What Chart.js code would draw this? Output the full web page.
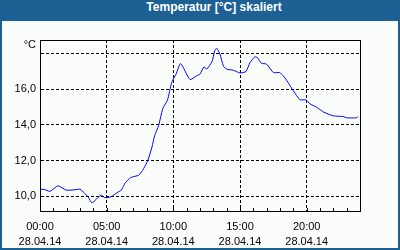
<!DOCTYPE html>
<html>
<head>
<meta charset="utf-8">
<script src="https://cdn.jsdelivr.net/npm/chart.js@4/dist/chart.umd.min.js"></script>
<style>
	html, body { margin: 0; padding: 0; }
	#frame { position: relative; width: 400px; height: 250px; background: #1d6094; overflow: hidden; }
	#head { position: absolute; left: 0; top: 0; width: 400px; height: 21px; line-height: 21px; color: #fff;
		font: bold 12px "Liberation Sans", Arial, sans-serif; text-align: center; padding-left: 28px; box-sizing: border-box; }
	#body { position: absolute; left: 2px; top: 21px; width: 396px; height: 227px; background: #fbfdfb; }
	canvas { display: block; }
</style>
</head>
<body>
<div id="frame">
	<div id="head">Temperatur [°C] skaliert</div>
	<div id="body"><canvas id="chart" width="396" height="227"></canvas></div>
</div>
<script>
// hours since midnight and temperature readings
var hours = [0, 0.3, 0.75, 1.35, 1.95, 2.7, 3.0, 3.6, 3.9, 4.57, 4.87, 5.33, 5.85, 6.1, 6.4, 6.8, 7.4, 7.7, 8.07, 8.4, 8.6, 8.9, 9.1, 9.25, 9.55, 9.88, 10.2, 10.55, 11.25, 11.75, 12.0, 12.3, 12.5, 12.9, 13.1, 13.25, 13.5, 13.75, 14.0, 14.5, 15.0, 15.45, 15.75, 16.1, 16.3, 16.6, 17.0, 17.5, 17.95, 18.25, 18.6, 19.0, 19.5, 19.95, 20.25, 20.75, 21.3, 22.0, 22.75, 23.0, 23.75, 23.85];
var temps = [10.39, 10.39, 10.28, 10.59, 10.35, 10.37, 10.40, 9.98, 9.64, 10.07, 9.92, 9.98, 10.24, 10.35, 10.76, 11.05, 11.18, 11.46, 11.98, 12.76, 13.4, 13.96, 14.6, 14.98, 15.35, 16.37, 16.83, 17.42, 16.53, 16.74, 16.83, 17.24, 17.11, 17.53, 18.13, 18.28, 17.94, 17.29, 17.11, 17.05, 16.9, 16.98, 17.48, 17.79, 17.76, 17.44, 17.39, 16.92, 16.92, 16.74, 16.37, 15.9, 15.4, 15.39, 15.17, 14.98, 14.7, 14.5, 14.46, 14.39, 14.39, 14.46];
var dateLabel = '28.04.14';
var yLabels = [10, 12, 14, 16];
var unit = '°C';

var font = { family: '"Liberation Sans", Arial, sans-serif', size: 11, lineHeight: 1.32 };

var points = [];
for (var i = 0; i < hours.length; i++) {
	points.push({ x: hours[i], y: temps[i] });
}

var extras = {
	id: 'extras',
	afterDraw: function (chart) {
		var ctx = chart.ctx;
		var area = chart.chartArea;
		var xs = chart.scales.x;
		ctx.save();
		ctx.strokeStyle = '#000';
		ctx.lineWidth = 1;
		// frame round the plot
		ctx.strokeRect(Math.round(area.left) + 0.5, Math.round(area.top) + 0.5,
			Math.round(area.right - area.left), Math.round(area.bottom - area.top));
		// hour ticks
		ctx.beginPath();
		for (var h = 1; h < 24; h++) {
			var px = Math.round(xs.getPixelForValue(h)) + 0.5;
			ctx.moveTo(px, area.bottom);
			ctx.lineTo(px, area.bottom - 3);
		}
		ctx.stroke();
		ctx.fillStyle = '#000';
		ctx.font = '11px ' + font.family;
		ctx.textAlign = 'right';
		ctx.textBaseline = 'middle';
		ctx.fillText(unit, area.left - 4, area.top + 5);
		ctx.restore();
	}
};

new Chart(document.getElementById('chart'), {
	type: 'line',
	data: {
		datasets: [{
			data: points,
			borderColor: '#0000ff',
			borderWidth: 1,
			pointRadius: 0,
			tension: 0.2,
			fill: false
		}]
	},
	options: {
		responsive: false,
		animation: false,
		layout: { padding: { top: 19, right: 38, left: 0, bottom: 0 } },
		plugins: { legend: { display: false }, tooltip: { enabled: false } },
		scales: {
			x: {
				type: 'linear',
				min: 0,
				max: 24,
				afterFit: function (s) { s.height = 37; },
				border: { display: true, color: '#000', width: 1, dash: [3, 2] },
				grid: {
					drawTicks: false,
					color: function (c) {
						var v = c.tick && c.tick.value;
						return (v % 5 === 0 && v > 0 && v < 24) ? '#000' : 'rgba(0,0,0,0)';
					}
				},
				ticks: {
					stepSize: 1,
					autoSkip: false,
					maxRotation: 0,
					padding: 9,
					color: '#000',
					font: font,
					callback: function (v) {
						if (v % 5 !== 0) return '';
						var hh = (v < 10 ? '0' : '') + v + ':00';
						return [hh, dateLabel];
					}
				}
			},
			y: {
				min: 9.18,
				max: 18.74,
				afterFit: function (s) { s.width = 38; },
				border: { display: true, color: '#000', width: 1, dash: [3, 2] },
				grid: {
					drawTicks: false,
					color: '#000'
				},
				ticks: {
					stepSize: 2,
					includeBounds: false,
					padding: 4,
					color: '#000',
					font: font,
					callback: function (v) {
						return yLabels.indexOf(v) >= 0 ? v.toFixed(1).replace('.', ',') : '';
					}
				}
			}
		}
	},
	plugins: [extras]
});
</script>
</body>
</html>
